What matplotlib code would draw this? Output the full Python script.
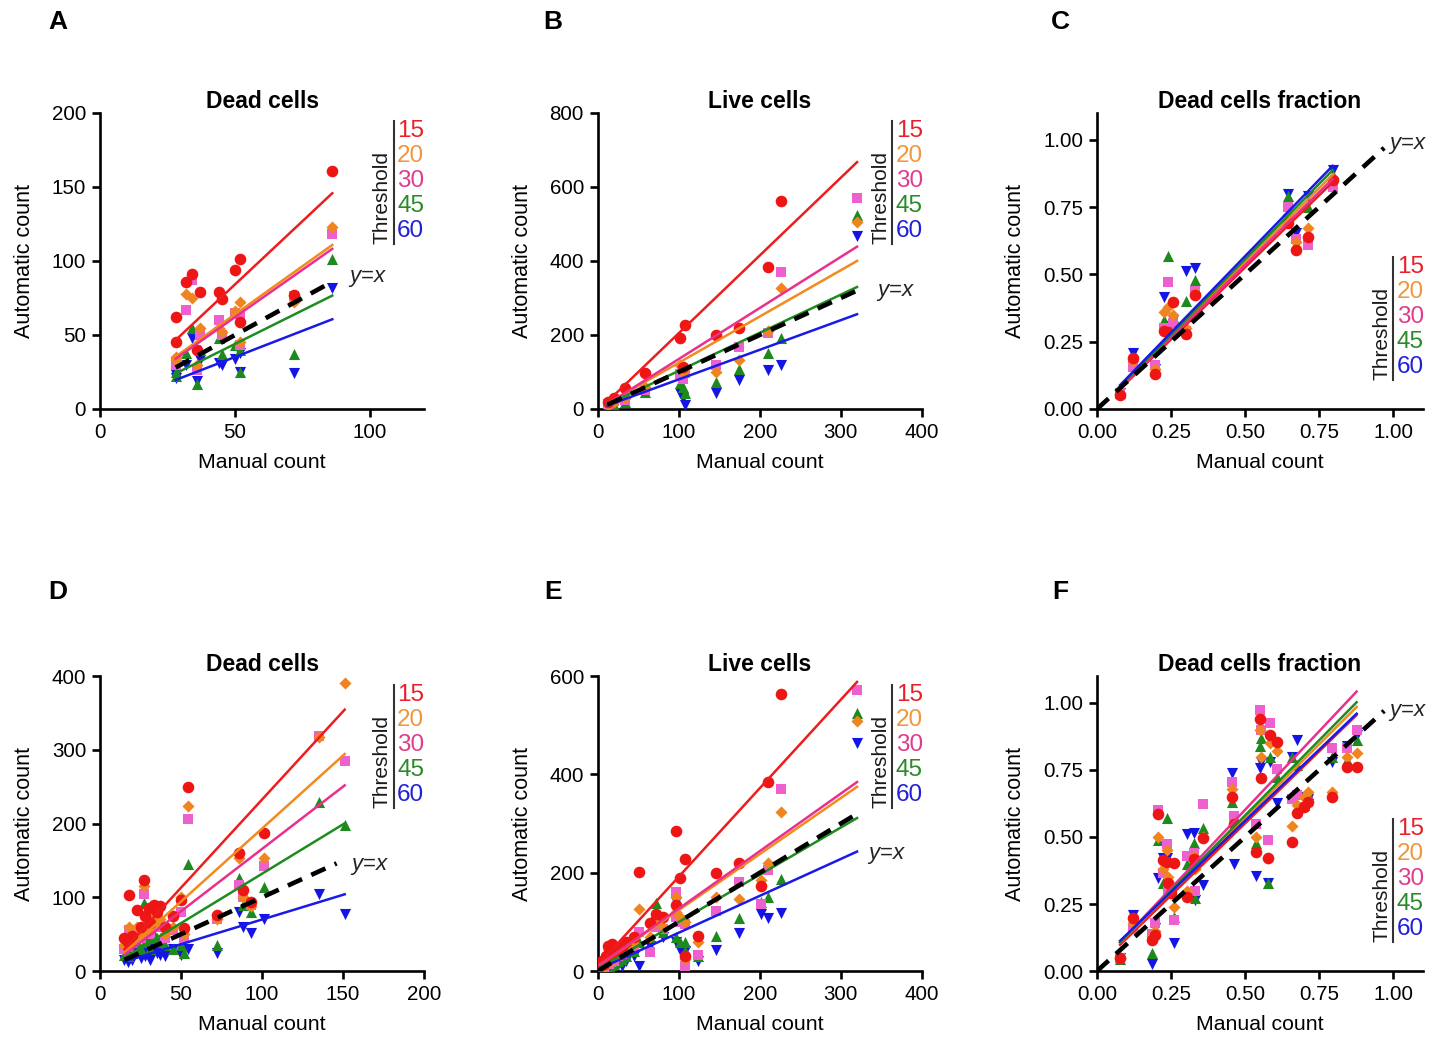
import numpy as np
import matplotlib
matplotlib.use('Agg')
import matplotlib.pyplot as plt
from matplotlib.lines import Line2D

plt.rcParams['font.family'] = ['Liberation Sans', 'DejaVu Sans']
plt.rcParams['mathtext.fontset'] = 'custom'
plt.rcParams['mathtext.it'] = 'Liberation Sans:italic'
plt.rcParams['mathtext.rm'] = 'Liberation Sans'

nan = np.nan

# Threshold key
thresholds = ['15', '20', '30', '45', '60']

# ---- Panel A: dead cells, set 1
a_manual = [28, 28, 32, 34, 36, 37, 44, 45, 50, 52, 52, 72, 86]
a_t15 = [62, 45, 86, 91, 40, 79, 79, 74, 94, 101, 59, 77, 161]
a_t20 = [35, 33, 78, 75, 30, 55, 55, 52, 66, 72, 45, 72, 123]
a_t30 = [32, 30, 67, 87, 26, 50, 60, 50, 65, 64, 43, 76, 118]
a_t45 = [25, 22, 38, 55, 17, 40, 48, 37, 43, 40, 25, 37, 101]
a_t60 = [21, 23, 30, 48, 19, 33, 31, 30, 34, 38, 25, 24, 82]
a_slope = [1.71, 1.30, 1.28, 0.907, 0.707]
a_icpt = [-1.3, -1.0, -1.9, -1.4, -0.2]
a_ident = [28, 86]

# ---- Panel B: live cells, set 1
b_manual = [12, 20, 33, 58, 102, 105, 108, 146, 174, 210, 226, 320]
b_t15 = [20, 30, 56, 96, 191, 114, 227, 200, 218, 385, 563, nan]
b_t20 = [12, 20, 30, 60, 119, 100, 110, 100, 132, 210, 326, 506]
b_t30 = [14, 22, 24, 50, 95, 80, 96, 119, 168, 204, 369, 571]
b_t45 = [8, 12, 18, 45, 69, 60, 42, 74, 107, 150, 191, 524]
b_t60 = [5, 10, 15, 45, 44, 30, 11, 44, 78, 105, 119, 467]
b_slope = [2.10, 1.25, 1.38, 1.03, 0.80]
b_icpt = [-5, 0, -3, 0, 0]
b_ident = [12, 320]

# ---- Panel C: dead cells fraction, set 1
c_manual = [0.078, 0.123, 0.196, 0.226, 0.241, 0.258, 0.30, 0.33, 0.646, 0.671, 0.714, 0.796]
c_t15 = [0.052, 0.19, 0.13, 0.29, 0.287, 0.399, 0.28, 0.424, 0.69, 0.59, 0.64, 0.851]
c_t20 = [0.06, 0.18, 0.15, 0.36, 0.38, 0.35, 0.30, 0.43, 0.72, 0.62, 0.672, 0.86]
c_t30 = [0.06, 0.157, 0.165, 0.30, 0.47, 0.32, 0.29, 0.44, 0.752, 0.63, 0.61, 0.824]
c_t45 = [0.06, 0.18, 0.14, 0.33, 0.569, 0.34, 0.40, 0.48, 0.79, 0.613, 0.75, 0.87]
c_t60 = [0.06, 0.207, 0.15, 0.417, 0.31, 0.33, 0.514, 0.525, 0.798, 0.653, 0.79, 0.888]
c_slope = [1.07, 1.10, 1.08, 1.12, 1.135]
c_icpt = [-0.009, -0.005, -0.005, -0.004, 0.0]
c_ident = [0.0, 0.97]

# ---- Panel D: dead cells, set 2
d_manual = [15, 17, 18, 20, 23, 25, 27, 28, 30, 31, 33, 35, 37, 40, 45, 50, 52, 54,
            72, 86, 88, 93, 101, 135, 151]
d_t15 = [45, 40, 103, 48, 83, 60, 124, 75, 85, 65, 90, 80, 88, 60, 75, 96, 58, 250,
         76, 160, 110, 94, 187, nan, nan]
d_t20 = [35, 38, 60, 42, 60, 50, 115, 60, 70, 55, 75, 65, 70, 50, 60, 100, 50, 224,
         70, 153, 100, 88, 153, 318, 390]
d_t30 = [30, 33, 55, 38, 55, 45, 105, 55, 65, 50, 70, 60, 65, 45, 55, 80, 45, 206,
         70, 117, 100, 89, 142, 319, 285]
d_t45 = [22, 20, 35, 25, 40, 30, 92, 40, 45, 30, 50, 45, 40, 35, 30, 35, 25, 145,
         35, 126, 90, 80, 114, 229, 198]
d_t60 = [15, 12, 20, 15, 25, 18, 25, 20, 22, 15, 30, 25, 22, 20, 30, 22, 30, 30,
         24, 80, 60, 51, 71, 105, 78]
d_slope = [2.39, 1.98, 1.69, 1.34, 0.67]
d_icpt = [-6.4, -4.7, -3.4, -2.0, 2.9]
d_ident = [15, 146]

# ---- Panel E: live cells, set 2
e_manual = [3, 5, 8, 10, 12, 14, 16, 18, 20, 25, 30, 35, 45, 51, 64, 72, 80, 97, 97,
            102, 108, 108, 124, 146, 174, 201, 210, 226, 320]
e_t15 = [10, 20, 15, 30, 50, 45, 35, 55, 40, 45, 49, 60, 70, 201, 97, 117, 110, 285,
         134, 190, 227, 30, 71, 199, 219, 173, 384, 563, nan]
e_t20 = [5, 10, 8, 18, 25, 20, 20, 30, 25, 35, 40, 50, 55, 127, 70, 100, 90, 150,
         120, 110, 100, 25, 60, 150, 146, 185, 219, 324, 508]
e_t30 = [3, 8, 6, 15, 20, 15, 18, 25, 20, 30, 35, 40, 50, 80, 39, 90, 85, 160,
         110, 100, 95, 10, 33, 123, 181, 137, 206, 370, 571]
e_t45 = [2, 5, 5, 10, 12, 10, 12, 15, 15, 20, 25, 30, 40, 60, 70, 139, 80, 120,
         70, 60, 60, 40, 30, 71, 107, 140, 151, 188, 525]
e_t60 = [1, 3, 3, 6, 8, 6, 10, 10, 10, 15, 10, 20, 30, 10, 50, 100, 70, 140,
         60, 43, 40, 20, 20, 43, 77, 117, 107, 119, 464]
e_slope = [1.80, 1.14, 1.17, 0.96, 0.75]
e_icpt = [12, 10, 10, 4, 3]
e_ident = [0, 320]

# ---- Panel F: dead cells fraction, set 2
f_manual = [0.078, 0.123, 0.185, 0.196, 0.207, 0.238, 0.224, 0.24, 0.261, 0.25,
            0.303, 0.329, 0.33, 0.357, 0.455, 0.463, 0.537, 0.551, 0.555, 0.584,
            0.579, 0.607, 0.66, 0.675, 0.70, 0.714, 0.793, 0.843, 0.877]
f_t15 = [0.047, 0.196, 0.116, 0.134, 0.586, 0.408, 0.414, 0.33, 0.402, 0.29,
         0.277, 0.416, 0.40, 0.495, 0.65, 0.55, 0.445, 0.939, 0.719, 0.88,
         0.42, 0.855, 0.48, 0.589, 0.613, 0.632, 0.65, 0.762, 0.762]
f_t20 = [0.05, 0.18, 0.13, 0.15, 0.50, 0.45, 0.38, 0.35, 0.24, 0.32,
         0.30, 0.43, 0.38, 0.50, 0.68, 0.55, 0.50, 0.90, 0.80, 0.85,
         0.42, 0.82, 0.54, 0.62, 0.65, 0.669, 0.669, 0.80, 0.812]
f_t30 = [0.05, 0.155, 0.14, 0.178, 0.601, 0.472, 0.364, 0.302, 0.19, 0.30,
         0.43, 0.44, 0.30, 0.622, 0.706, 0.578, 0.55, 0.974, 0.899, 0.924,
         0.488, 0.752, 0.64, 0.657, 0.61, 0.63, 0.83, 0.83, 0.899]
f_t45 = [0.045, 0.17, 0.068, 0.15, 0.489, 0.569, 0.33, 0.31, 0.20, 0.30,
         0.40, 0.479, 0.271, 0.535, 0.632, 0.56, 0.479, 0.84, 0.87, 0.80,
         0.33, 0.725, 0.80, 0.77, 0.62, 0.66, 0.80, 0.787, 0.862]
f_t60 = [0.05, 0.208, 0.026, 0.16, 0.346, 0.42, 0.42, 0.30, 0.106, 0.29,
         0.511, 0.516, 0.265, 0.321, 0.737, 0.401, 0.354, 0.756, 0.78, 0.78,
         0.327, 0.625, 0.80, 0.862, 0.65, 0.64, 0.78, 0.84, 0.88]
f_slope = [1.073, 1.10, 1.17, 1.12, 1.06]
f_icpt = [0.014, 0.02, 0.016, 0.02, 0.03]
f_ident = [0.0, 0.97]

# styles
marker_colors = ['#ee1515', '#f0841e', '#ee5fd0', '#1e8a1e', '#1414e6']
line_colors = ['#ee1c1c', '#f28a1e', '#ea2f8c', '#1e8c1e', '#1a1ae8']
key_colors = ['#e8202a', '#f0963c', '#e03c8c', '#2a8a2a', '#2020d8']
markers = ['o', 'D', 's', '^', 'v']
msizes = [70, 38, 50, 64, 64]

fig = plt.figure(figsize=(14.44, 10.38), dpi=100)


def draw_panel(rect, manual, counts, slopes, icpts, ident, title, xlim, xticks,
               ylim, yticks, fmt, yx_pos, key_pos):
    ax = fig.add_axes(rect)
    manual = np.array(manual, dtype=float)
    # points, red drawn last
    for i in reversed(range(5)):
        ax.scatter(manual, counts[i], marker=markers[i], s=msizes[i],
                   color=marker_colors[i], linewidths=0, zorder=3 + (4 - i) * 0.1)
    # regression lines
    xr = np.array([np.nanmin(manual), np.nanmax(manual)])
    for i in range(5):
        ax.plot(xr, slopes[i] * xr + icpts[i], color=line_colors[i], lw=1.8, zorder=4)
    # identity line
    ax.plot(ident, ident, color='black', lw=3.3, ls=(0, (3.4, 2.2)), zorder=5)
    ax.text(yx_pos[0], yx_pos[1], r'$y$=$x$', fontsize=16, ha='left', va='center',
            color='#222222')

    ax.set_xlim(*xlim)
    ax.set_ylim(*ylim)
    ax.set_xticks(xticks)
    ax.set_yticks(yticks)
    ax.set_xticklabels([fmt.format(t) for t in xticks])
    ax.set_yticklabels([fmt.format(t) for t in yticks])
    for s in ['top', 'right']:
        ax.spines[s].set_visible(False)
    for s in ['left', 'bottom']:
        ax.spines[s].set_linewidth(1.9)
    ax.tick_params(direction='out', length=6, width=1.9, labelsize=14.8, pad=4)
    ax.set_title(title, fontsize=16.5, fontweight='bold', pad=3)
    ax.set_xlabel('Manual count', fontsize=15.3, labelpad=8)
    ax.set_ylabel('Automatic count', fontsize=15.5, labelpad=12)

    # threshold key
    x0, ytop = key_pos
    step = 0.0845
    for i in range(5):
        ax.text(x0, ytop - i * step, thresholds[i], color=key_colors[i], fontsize=17.5,
                ha='left', va='center', transform=ax.transAxes)
    ybot = ytop - 4 * step - 0.045
    ax.text(x0 - 0.017, ybot, 'Threshold', rotation=90, ha='right', va='bottom',
            fontsize=15, color='#1a1a1a', transform=ax.transAxes)
    ax.add_line(Line2D([x0 - 0.011, x0 - 0.011], [ytop + 0.035, ybot],
                       transform=ax.transAxes, color='#333333', lw=1.5, clip_on=False))
    return ax


w = 0.2244
h = 0.2852
top_b = 0.606
bot_b = 0.0645
frac_ticks = [0, 0.25, 0.5, 0.75, 1.0]

draw_panel([0.0693, top_b, w, h], a_manual, [a_t15, a_t20, a_t30, a_t45, a_t60],
           a_slope, a_icpt, a_ident, 'Dead cells', (0, 120), [0, 50, 100],
           (0, 200), [0, 50, 100, 150, 200], '{:g}', (92, 88), (0.917, 0.939))
draw_panel([0.414, top_b, w, h], b_manual, [b_t15, b_t20, b_t30, b_t45, b_t60],
           b_slope, b_icpt, b_ident, 'Live cells', (0, 400), [0, 100, 200, 300, 400],
           (0, 800), [0, 200, 400, 600, 800], '{:g}', (343, 316), (0.92, 0.939))
draw_panel([0.7597, top_b, 0.2255, h], c_manual, [c_t15, c_t20, c_t30, c_t45, c_t60],
           c_slope, c_icpt, c_ident, 'Dead cells fraction', (0, 1.1), frac_ticks,
           (0, 1.1), frac_ticks, '{:.2f}', (0.982, 0.98), (0.921, 0.48))
draw_panel([0.0693, bot_b, w, 0.2842], d_manual, [d_t15, d_t20, d_t30, d_t45, d_t60],
           d_slope, d_icpt, d_ident, 'Dead cells', (0, 200), [0, 50, 100, 150, 200],
           (0, 400), [0, 100, 200, 300, 400], '{:g}', (154, 142), (0.917, 0.936))
draw_panel([0.414, bot_b, w, 0.2842], e_manual, [e_t15, e_t20, e_t30, e_t45, e_t60],
           e_slope, e_icpt, e_ident, 'Live cells', (0, 400), [0, 100, 200, 300, 400],
           (0, 600), [0, 200, 400, 600], '{:g}', (332, 236), (0.92, 0.936))
draw_panel([0.7597, bot_b, 0.2255, 0.2842], f_manual, [f_t15, f_t20, f_t30, f_t45, f_t60],
           f_slope, f_icpt, f_ident, 'Dead cells fraction', (0, 1.1), frac_ticks,
           (0, 1.1), frac_ticks, '{:.2f}', (0.982, 0.963), (0.921, 0.481))

# panel letters
for lab, x, y in [('A', 0.0402, 0.9788), ('B', 0.383, 0.9788), ('C', 0.734, 0.9788),
                  ('D', 0.0402, 0.4297), ('E', 0.383, 0.4297), ('F', 0.734, 0.4297)]:
    fig.text(x, y, lab, fontsize=19, fontweight='bold', ha='center', va='center')

fig.savefig('out.png', dpi=100)
